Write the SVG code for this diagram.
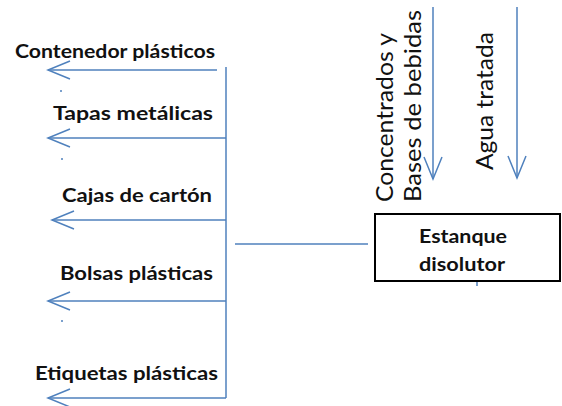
<svg xmlns="http://www.w3.org/2000/svg" width="562" height="406" viewBox="0 0 562 406">
<style>
.lbl{font-family:Lato,"Liberation Sans",sans-serif;font-weight:bold;font-size:19px;fill:#111}
.vlbl{font-family:Lato,"Liberation Sans",sans-serif;font-size:24px;fill:#111}
.ln{stroke:#4F81BD;stroke-width:1.5;fill:none}
.dot{fill:#4F81BD}
</style>
<defs>
<marker id="ah" markerUnits="userSpaceOnUse" viewBox="-25 -10 27 20" refX="0" refY="0" markerWidth="27" markerHeight="20" orient="auto" overflow="visible">
<path d="M-22,-9 L0,0 L-22,9" fill="none" stroke="#4F81BD" stroke-width="1.5"/>
</marker>
</defs>
<rect width="562" height="406" fill="#fff"/>
<g id="connectors">
<line class="ln" x1="226" y1="67" x2="226" y2="398"/>
<line class="ln" x1="217" y1="70" x2="48" y2="70" marker-end="url(#ah)"/>
<line class="ln" x1="226" y1="138" x2="48" y2="138" marker-end="url(#ah)"/>
<line class="ln" x1="226" y1="220" x2="52" y2="220" marker-end="url(#ah)"/>
<line class="ln" x1="226" y1="301" x2="48" y2="301" marker-end="url(#ah)"/>
<line class="ln" x1="226" y1="398" x2="48" y2="398" marker-end="url(#ah)"/>
<line class="ln" x1="235" y1="244" x2="368" y2="244"/>
<line class="ln" x1="433" y1="7" x2="433" y2="179" marker-end="url(#ah)"/>
<line class="ln" x1="517" y1="7" x2="517" y2="178" marker-end="url(#ah)"/>
<line class="ln" x1="477" y1="281" x2="477" y2="286"/>
<circle class="dot" cx="61" cy="91" r="1"/>
<circle class="dot" cx="62" cy="159" r="1"/>
<circle class="dot" cx="62" cy="321" r="1"/>
</g>
<g id="contenedor"><text class="lbl" x="15" y="58" textLength="200" lengthAdjust="spacingAndGlyphs">Contenedor plásticos</text></g>
<g id="tapas"><text class="lbl" x="53" y="120" textLength="160" lengthAdjust="spacingAndGlyphs">Tapas metálicas</text></g>
<g id="cajas"><text class="lbl" x="62" y="202" textLength="150" lengthAdjust="spacingAndGlyphs">Cajas de cartón</text></g>
<g id="bolsas"><text class="lbl" x="60" y="280" textLength="153" lengthAdjust="spacingAndGlyphs">Bolsas plásticas</text></g>
<g id="etiquetas"><text class="lbl" x="35" y="380" textLength="183" lengthAdjust="spacingAndGlyphs">Etiquetas plásticas</text></g>
<g id="concentrados">
<text class="vlbl" transform="translate(393,202) rotate(-90)" textLength="169" lengthAdjust="spacingAndGlyphs">Concentrados y</text>
<text class="vlbl" transform="translate(421,202) rotate(-90)" textLength="192" lengthAdjust="spacingAndGlyphs">Bases de bebidas</text>
</g>
<g id="agua"><text class="vlbl" transform="translate(493,170) rotate(-90)" textLength="138" lengthAdjust="spacingAndGlyphs">Agua tratada</text></g>
<g id="estanque">
<rect x="375" y="214" width="185" height="67" fill="#fff" stroke="#000" stroke-width="2"/>
<text class="lbl" x="419" y="243" textLength="88" lengthAdjust="spacingAndGlyphs">Estanque</text>
<text class="lbl" x="419" y="271" textLength="86" lengthAdjust="spacingAndGlyphs">disolutor</text>
</g>
</svg>
